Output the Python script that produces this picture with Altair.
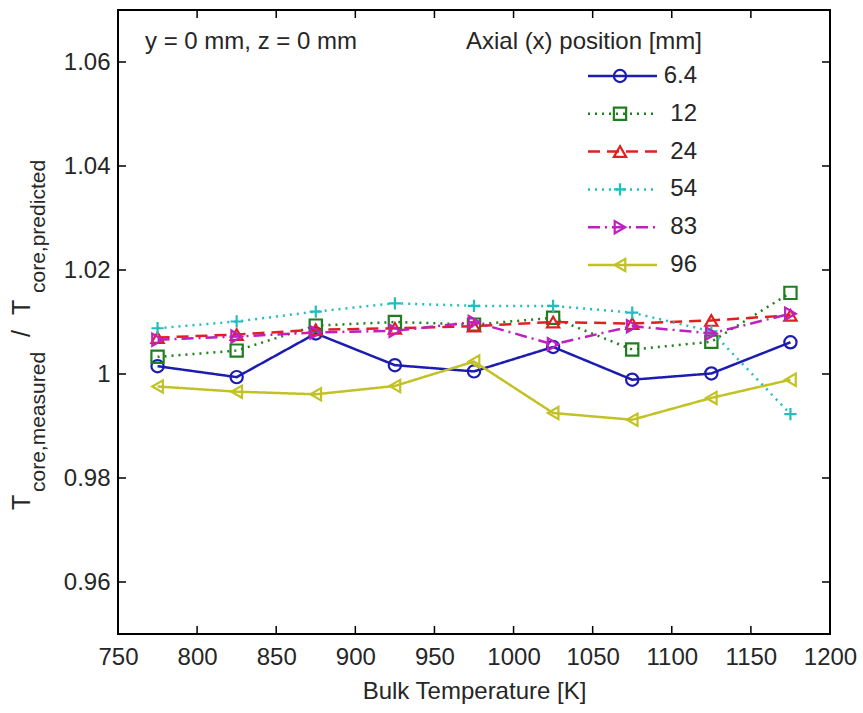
import altair as alt
import pandas as pd

# ---------------- data ----------------
temperature = [775, 825, 875, 925, 975, 1025, 1075, 1125, 1175]
series = ["6.4", "12", "24", "54", "83", "96"]

r_6_4 = [1.0015, 0.9994, 1.0078, 1.0017, 1.0005, 1.0052, 0.9989, 1.0001, 1.0061]
r_12 = [1.0033, 1.0045, 1.0093, 1.0100, 1.0095, 1.0108, 1.0047, 1.0062, 1.0156]
r_24 = [1.0070, 1.0076, 1.0085, 1.0088, 1.0092, 1.0100, 1.0097, 1.0103, 1.0113]
r_54 = [1.0088, 1.0101, 1.0120, 1.0136, 1.0131, 1.0131, 1.0118, 1.0082, 0.9923]
r_83 = [1.0066, 1.0072, 1.0080, 1.0083, 1.0100, 1.0057, 1.0092, 1.0078, 1.0116]
r_96 = [0.9976, 0.9966, 0.9961, 0.9977, 1.0024, 0.9925, 0.9912, 0.9954, 0.9989]
all_values = [r_6_4, r_12, r_24, r_54, r_83, r_96]

colors = ["#1c1cb0", "#1f7f1f", "#e02020", "#20bfbf", "#bf20bf", "#c2c224"]
dashes = [[1, 0], [2, 5], [12, 7], [2, 5], [12, 5, 2, 5], [1, 0]]
shapes = ["circle", "square", "triangle-up", "M-1,0L1,0M0,-1L0,1",
          "triangle-right", "triangle-left"]

x_ticks = [750, 800, 850, 900, 950, 1000, 1050, 1100, 1150, 1200]
y_ticks = [0.96, 0.98, 1.0, 1.02, 1.04, 1.06]

x_title = "Bulk Temperature [K]"
note_text = "y = 0 mm, z = 0 mm"
legend_title = "Axial (x) position [mm]"

FONT = "Liberation Sans"
TXT = "#262626"
FS = 24
LW = 2.5

rows = []
for name, vals in zip(series, all_values):
    for t, v in zip(temperature, vals):
        rows.append({"T": t, "ratio": v, "series": name})
df = pd.DataFrame(rows)

# ---------------- scales / axes ----------------
x_scale = alt.Scale(domain=[750, 1200], nice=False, zero=False)
y_scale = alt.Scale(domain=[0.95, 1.07], nice=False, zero=False)
color_scale = alt.Scale(domain=series, range=colors)
dash_scale = alt.Scale(domain=series, range=dashes)
shape_scale = alt.Scale(domain=series, range=shapes)

x_axis = alt.Axis(values=x_ticks, format="d", domain=False, ticks=False, grid=False,
                  labelFontSize=FS, labelPadding=11, labelColor=TXT, labelFont=FONT,
                  labelFlush=False, labelOverlap=False, labelBound=False,
                  title=x_title, titleFontSize=FS, titleFont=FONT, titleFontWeight="normal",
                  titleColor=TXT, titlePadding=10)
y_axis = alt.Axis(values=y_ticks, format="~g", domain=False, ticks=False, grid=False,
                  labelFontSize=FS, labelPadding=8, labelColor=TXT, labelFont=FONT,
                  labelOverlap=False, labelFlush=False, labelBound=False, title=None)

X = alt.X("T:Q", scale=x_scale, axis=x_axis)
Y = alt.Y("ratio:Q", scale=y_scale, axis=y_axis)
C = alt.Color("series:N", scale=color_scale, legend=None)
D = alt.StrokeDash("series:N", scale=dash_scale, legend=None)
S = alt.Shape("series:N", scale=shape_scale, legend=None)

layers = []
for name in series:
    base = alt.Chart(df).transform_filter(alt.datum.series == name)
    layers.append(base.mark_line(strokeWidth=LW).encode(x=X, y=Y, color=C, strokeDash=D))
    layers.append(base.mark_point(filled=False, size=150, strokeWidth=2.2, opacity=1)
                  .encode(x=X, y=Y, color=C, shape=S))

# inward ticks (MATLAB box style)
xt = pd.DataFrame({"v": x_ticks[1:-1]})
yt = pd.DataFrame({"v": y_ticks})
XV = alt.X("v:Q", scale=x_scale, axis=x_axis)
YV = alt.Y("v:Q", scale=y_scale, axis=y_axis)
layers.append(alt.Chart(xt).mark_rule(color="black", strokeWidth=1.5)
              .encode(x=XV, y=alt.value(624), y2=alt.value(616)))
layers.append(alt.Chart(xt).mark_rule(color="black", strokeWidth=1.5)
              .encode(x=XV, y=alt.value(0), y2=alt.value(8)))
layers.append(alt.Chart(yt).mark_rule(color="black", strokeWidth=1.5)
              .encode(y=YV, x=alt.value(0), x2=alt.value(8)))
layers.append(alt.Chart(yt).mark_rule(color="black", strokeWidth=1.5)
              .encode(y=YV, x=alt.value(704), x2=alt.value(712)))

# axes box
layers.append(alt.Chart(pd.DataFrame({"b": [0]})).mark_rect(
    fill=None, fillOpacity=0, stroke="black", strokeWidth=2).encode(
    x=alt.value(0), x2=alt.value(712), y=alt.value(0), y2=alt.value(624)))

# annotations
layers.append(alt.Chart(pd.DataFrame({"t": [note_text]}))
              .mark_text(align="left", baseline="middle", fontSize=FS, font=FONT, color=TXT)
              .encode(x=alt.value(27), y=alt.value(32), text="t:N"))

main = alt.layer(*layers)

# ---------------- legend ----------------
leg_df = pd.DataFrame({"series": series})
LY = alt.Y("series:N", sort=series,
           scale=alt.Scale(type="point", domain=series, range=[66, 255], padding=0),
           axis=None)
leg_rules = alt.Chart(leg_df).mark_rule(strokeWidth=LW).encode(
    y=LY, x=alt.value(470), x2=alt.value(539), color=C, strokeDash=D)
leg_pts = alt.Chart(leg_df).mark_point(filled=False, size=150, strokeWidth=2.2, opacity=1).encode(
    y=LY, x=alt.value(502), color=C, shape=S)
leg_text = alt.Chart(leg_df).mark_text(align="right", baseline="middle", fontSize=FS,
                                       font=FONT, color=TXT).encode(
    y=LY, x=alt.value(579), text="series:N")
leg_title = alt.Chart(pd.DataFrame({"t": [legend_title]})).mark_text(
    align="right", baseline="middle", fontSize=FS, font=FONT, color=TXT).encode(
    x=alt.value(584), y=alt.value(32), text="t:N")
legend = alt.layer(leg_rules, leg_pts, leg_text, leg_title)

# ---------------- y title with subscripts ----------------
def ytext(s, x, y, size):
    return alt.Chart(pd.DataFrame({"t": [s]})).mark_text(
        angle=270, align="left", baseline="alphabetic", fontSize=size,
        font=FONT, color=TXT).encode(x=alt.value(x), y=alt.value(y), text="t:N")

ytitle = alt.layer(
    ytext("T", -88, 500, 25),
    ytext("core,measured", -73, 482, 21),
    ytext("/", -88, 327, 25),
    ytext("T", -88, 305, 25),
    ytext("core,predicted", -73, 283, 21),
)

chart = alt.layer(main, legend, ytitle).resolve_scale(y="independent").properties(
    width=712, height=624,
    autosize=alt.AutoSizeParams(type="none"),
    padding={"left": 118, "top": 10, "right": 33, "bottom": 79},
    background="white",
).configure_view(stroke=None).configure(font=FONT)

chart.save("out.html", embed_options={"renderer": "svg", "actions": False})
